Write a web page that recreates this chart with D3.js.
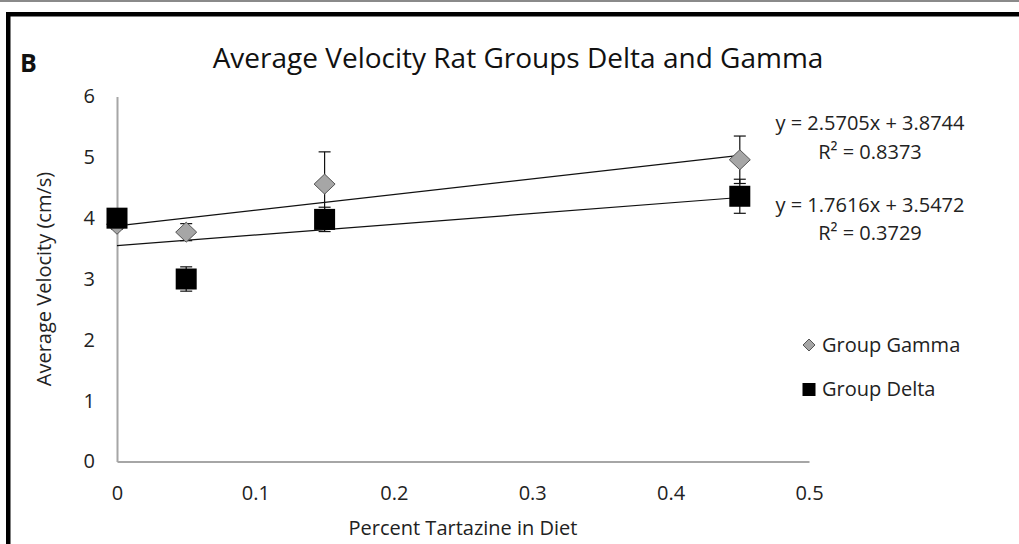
<!DOCTYPE html>
<html>
<head>
<meta charset="utf-8">
<script src="https://cdn.jsdelivr.net/npm/d3@7"></script>
<style>
  body { margin: 0; background: #fff; }
  svg { display: block; font-family: "Open Sans", sans-serif; }
</style>
</head>
<body>
<div id="chart"></div>
<script>
var svgWidth = 1019;
var svgHeight = 544;

// data
var doses = [0, 0.05, 0.15, 0.45];
var gammaValues = [3.9, 3.77, 4.56, 4.96];
var gammaErrors = [0.08, 0.14, 0.53, 0.39];
var deltaValues = [4.0, 3.0, 3.98, 4.36];
var deltaErrors = [0.08, 0.2, 0.2, 0.28];

// trendline coefficients as printed on the chart
var gammaFit = [2.5705, 3.8744];
var deltaFit = [1.7616, 3.5472];
var fitLabels = [
  ["y = 2.5705x + 3.8744", "R\u00b2 = 0.8373"],
  ["y = 1.7616x + 3.5472", "R\u00b2 = 0.3729"]
];

var xTicks = [0, 0.1, 0.2, 0.3, 0.4, 0.5];
var yTicks = [0, 1, 2, 3, 4, 5, 6];
var seriesNames = ["Group Gamma", "Group Delta"];

var margin = { top: 96.5, left: 117 };
var width = 692;
var height = 365;

var svg = d3.select("#chart")
  .append("svg")
  .attr("width", svgWidth)
  .attr("height", svgHeight);

// page frame
svg.append("rect")
  .attr("x", 0).attr("y", 0)
  .attr("width", svgWidth).attr("height", 2)
  .attr("fill", "#8a8a8a");
svg.append("rect")
  .attr("x", 6).attr("y", 12)
  .attr("width", svgWidth - 6).attr("height", 4.5)
  .attr("fill", "#000");
svg.append("rect")
  .attr("x", 6).attr("y", 12)
  .attr("width", 4.5).attr("height", svgHeight - 12)
  .attr("fill", "#000");

svg.append("text")
  .attr("x", 20).attr("y", 72)
  .attr("font-size", 25)
  .attr("font-weight", "bold")
  .attr("fill", "#111")
  .text("B");

svg.append("text")
  .attr("x", 518).attr("y", 68)
  .attr("text-anchor", "middle")
  .attr("font-size", 28)
  .attr("fill", "#111")
  .text("Average Velocity Rat Groups Delta and Gamma");

var chartGroup = svg.append("g")
  .attr("transform", `translate(${margin.left}, ${margin.top})`);

var xScale = d3.scaleLinear().domain([0, 0.5]).range([0, width]);
var yScale = d3.scaleLinear().domain([0, 6]).range([height, 0]);

// axes, no tick marks
var bottomAxis = d3.axisBottom(xScale)
  .tickValues(xTicks)
  .tickSize(0)
  .tickPadding(24)
  .tickFormat(d => d === 0 ? "0" : d3.format(".1f")(d));
var leftAxis = d3.axisLeft(yScale)
  .tickValues(yTicks)
  .tickSize(0)
  .tickPadding(22)
  .tickFormat(d3.format("d"));

var xAxis = chartGroup.append("g")
  .attr("transform", `translate(0, ${height})`)
  .call(bottomAxis);
var yAxis = chartGroup.append("g")
  .call(leftAxis);

[xAxis, yAxis].forEach(function(ax) {
  ax.select(".domain").attr("stroke", "#a6a6a6").attr("stroke-width", 2);
  ax.selectAll("text")
    .attr("font-size", 20)
    .attr("fill", "#222")
    .attr("font-family", "Open Sans, sans-serif");
});

chartGroup.append("text")
  .attr("x", width / 2)
  .attr("y", height + 73)
  .attr("text-anchor", "middle")
  .attr("font-size", 20)
  .attr("fill", "#222")
  .text("Percent Tartazine in Diet");

chartGroup.append("text")
  .attr("transform", `translate(-66, ${height / 2}) rotate(-90)`)
  .attr("text-anchor", "middle")
  .attr("font-size", 20)
  .attr("fill", "#222")
  .text("Average Velocity (cm/s)");

// trendlines
var xEnd = d3.max(doses);
[gammaFit, deltaFit].forEach(function(fit) {
  chartGroup.append("line")
    .attr("x1", xScale(0))
    .attr("y1", yScale(fit[1]))
    .attr("x2", xScale(xEnd))
    .attr("y2", yScale(fit[0] * xEnd + fit[1]))
    .attr("stroke", "#111")
    .attr("stroke-width", 1.2);
});

function drawErrors(values, errors) {
  var g = chartGroup.append("g")
    .attr("stroke", "#111")
    .attr("stroke-width", 1.2);
  doses.forEach(function(x, i) {
    var cx = xScale(x);
    var top = yScale(values[i] + errors[i]);
    var bot = yScale(values[i] - errors[i]);
    g.append("line").attr("x1", cx).attr("x2", cx).attr("y1", top).attr("y2", bot);
    g.append("line").attr("x1", cx - 6).attr("x2", cx + 6).attr("y1", top).attr("y2", top);
    g.append("line").attr("x1", cx - 6).attr("x2", cx + 6).attr("y1", bot).attr("y2", bot);
  });
}

function diamondPath(cx, cy, w, h) {
  return `M${cx},${cy - h} L${cx + w},${cy} L${cx},${cy + h} L${cx - w},${cy} Z`;
}

// gamma: gray diamonds
drawErrors(gammaValues, gammaErrors);
chartGroup.selectAll(".gamma")
  .data(gammaValues)
  .enter()
  .append("path")
  .attr("class", "gamma")
  .attr("d", (d, i) => diamondPath(xScale(doses[i]), yScale(d), 10.5, 10))
  .attr("fill", "#a6a6a6")
  .attr("stroke", "#555")
  .attr("stroke-width", 1);

// delta: black squares
drawErrors(deltaValues, deltaErrors);
chartGroup.selectAll(".delta")
  .data(deltaValues)
  .enter()
  .append("rect")
  .attr("class", "delta")
  .attr("x", (d, i) => xScale(doses[i]) - 10.5)
  .attr("y", d => yScale(d) - 10.5)
  .attr("width", 21)
  .attr("height", 21)
  .attr("fill", "#000");

// trendline equations
var eqY = [130, 159, 212, 240];
fitLabels.forEach(function(pair, k) {
  pair.forEach(function(txt, j) {
    svg.append("text")
      .attr("x", 870)
      .attr("y", eqY[k * 2 + j])
      .attr("text-anchor", "middle")
      .attr("font-size", 20)
      .attr("fill", "#222")
      .text(txt);
  });
});

// legend
var legend = svg.append("g");
legend.append("path")
  .attr("d", diamondPath(809, 345, 6, 6))
  .attr("fill", "#a6a6a6")
  .attr("stroke", "#555");
legend.append("rect")
  .attr("x", 802.5).attr("y", 383)
  .attr("width", 13).attr("height", 13)
  .attr("fill", "#000");
seriesNames.forEach(function(name, i) {
  legend.append("text")
    .attr("x", 822)
    .attr("y", 352 + i * 44)
    .attr("font-size", 20)
    .attr("fill", "#222")
    .text(name);
});
</script>
</body>
</html>
